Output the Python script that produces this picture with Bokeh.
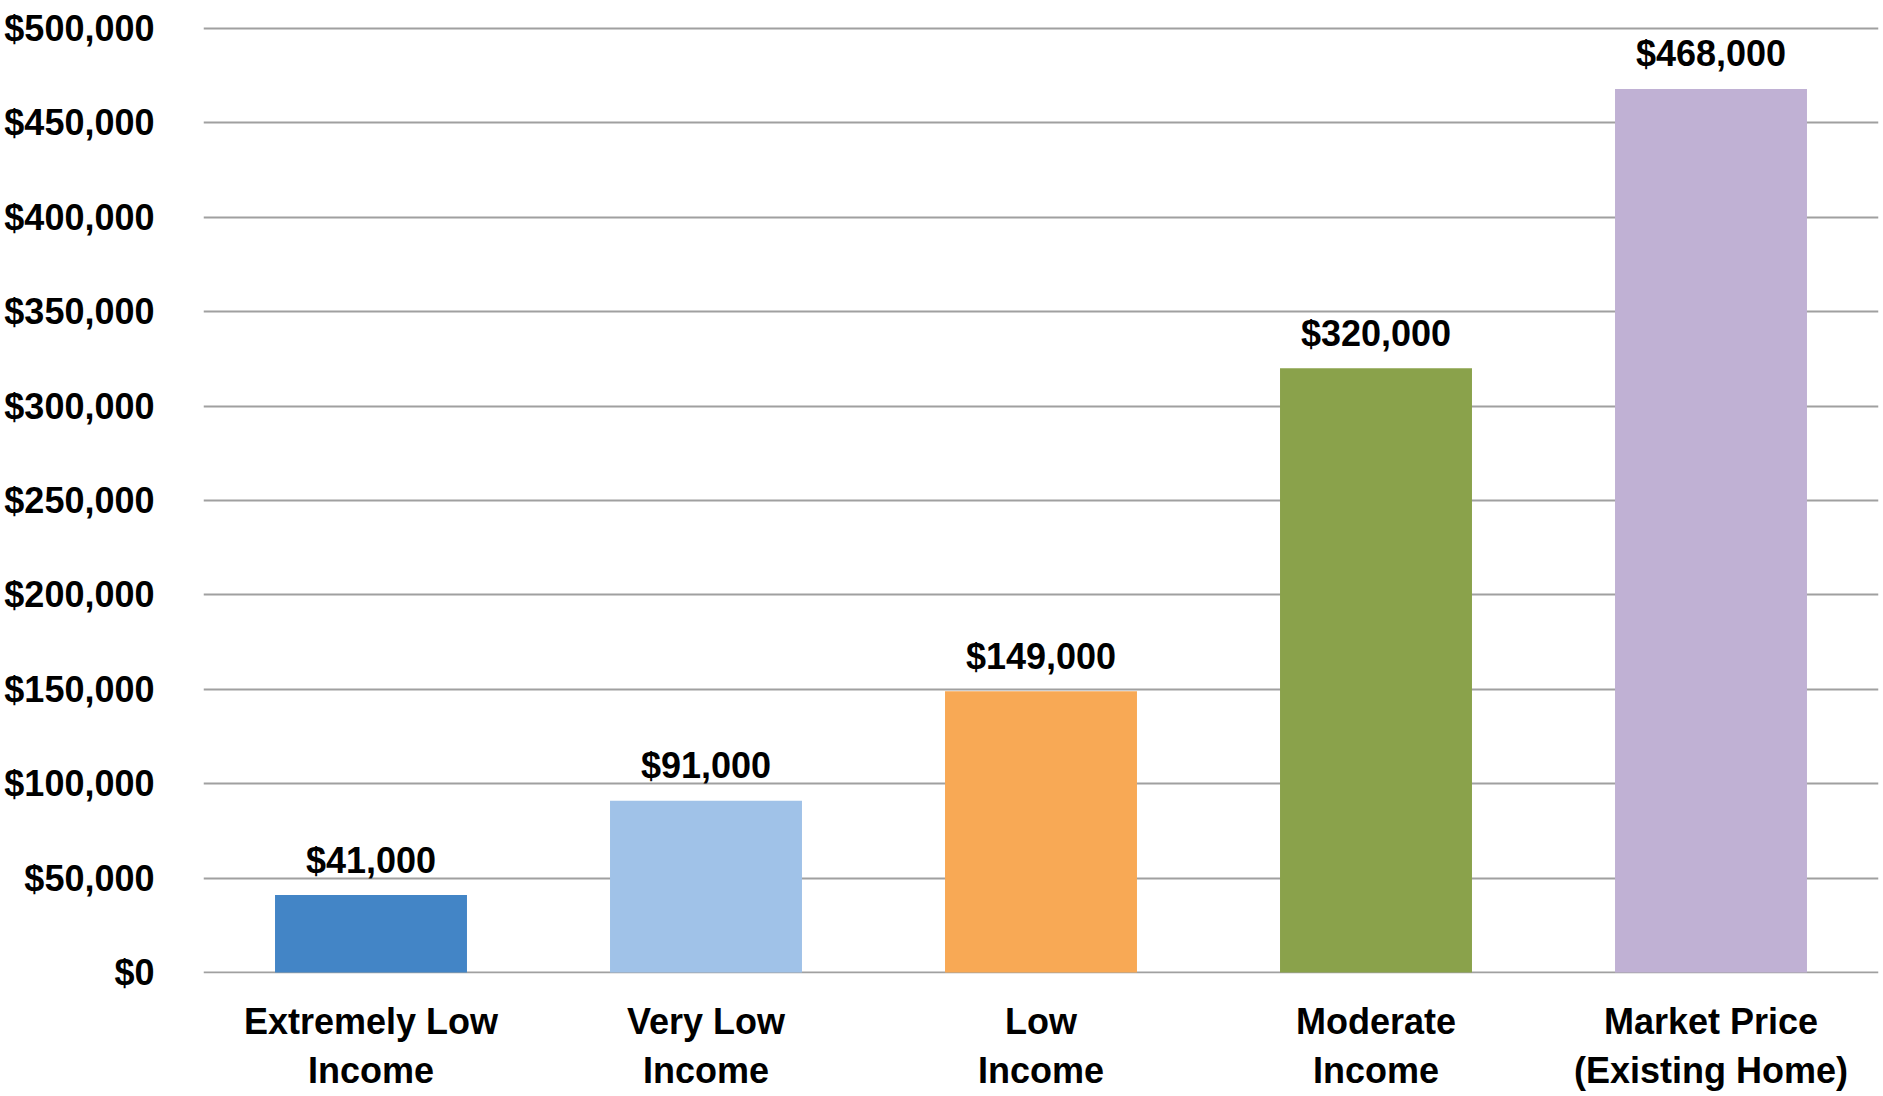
from bokeh.plotting import figure
from bokeh.models import ColumnDataSource, Range1d, FactorRange, SingleIntervalTicker, NumeralTickFormatter
from bokeh.core.properties import value
from bokeh.embed import file_html
from bokeh.resources import INLINE

# Affordable purchase price by income level
categories = ["Extremely Low\nIncome", "Very Low\nIncome", "Low\nIncome",
              "Moderate\nIncome", "Market Price\n(Existing Home)"]
prices = [41000, 91000, 149000, 320000, 468000]
bar_colors = ["#4385c6", "#a0c2e8", "#f8a955", "#8aa24b", "#c0b1d4"]
price_labels = ["${:,.0f}".format(v) for v in prices]

FONT = "Liberation Sans, Arial, sans-serif"
SIZE = "36px"

src = ColumnDataSource(dict(cat=categories, price=prices, color=bar_colors, label=price_labels))

p = figure(width=1883, height=1096, x_range=FactorRange(*categories),
           y_range=Range1d(-530, 502119), output_backend="svg", toolbar_location=None,
           min_border_left=203, min_border_right=5, min_border_top=24, min_border_bottom=123)
p.outline_line_color = None
p.background_fill_color = "white"
p.border_fill_color = "white"

p.vbar(x="cat", top="price", width=0.573, fill_color="color", line_color=None, source=src)

p.text(x="cat", y="price", text="label", source=src, text_align="center",
       text_baseline="alphabetic", y_offset=-35, text_font=value(FONT),
       text_font_style="bold", text_font_size=SIZE, text_color="#000000")

p.xgrid.grid_line_color = None
p.ygrid.grid_line_color = "#a0a0a0"
p.ygrid.grid_line_width = 2

p.yaxis.ticker = SingleIntervalTicker(interval=50000)
p.yaxis.formatter = NumeralTickFormatter(format="$0,0")
for ax in (p.xaxis[0], p.yaxis[0]):
    ax.axis_line_color = None
    ax.major_tick_line_color = None
    ax.minor_tick_line_color = None
    ax.major_tick_out = 0
    ax.major_tick_in = 0
    ax.major_label_text_font = FONT
    ax.major_label_text_font_style = "bold"
    ax.major_label_text_font_size = SIZE
    ax.major_label_text_color = "#000000"
p.yaxis.major_label_standoff = 45
p.xaxis.major_label_standoff = 27
p.xaxis.major_label_text_line_height = 1.2

open("out.html", "w").write(file_html(p, INLINE))
